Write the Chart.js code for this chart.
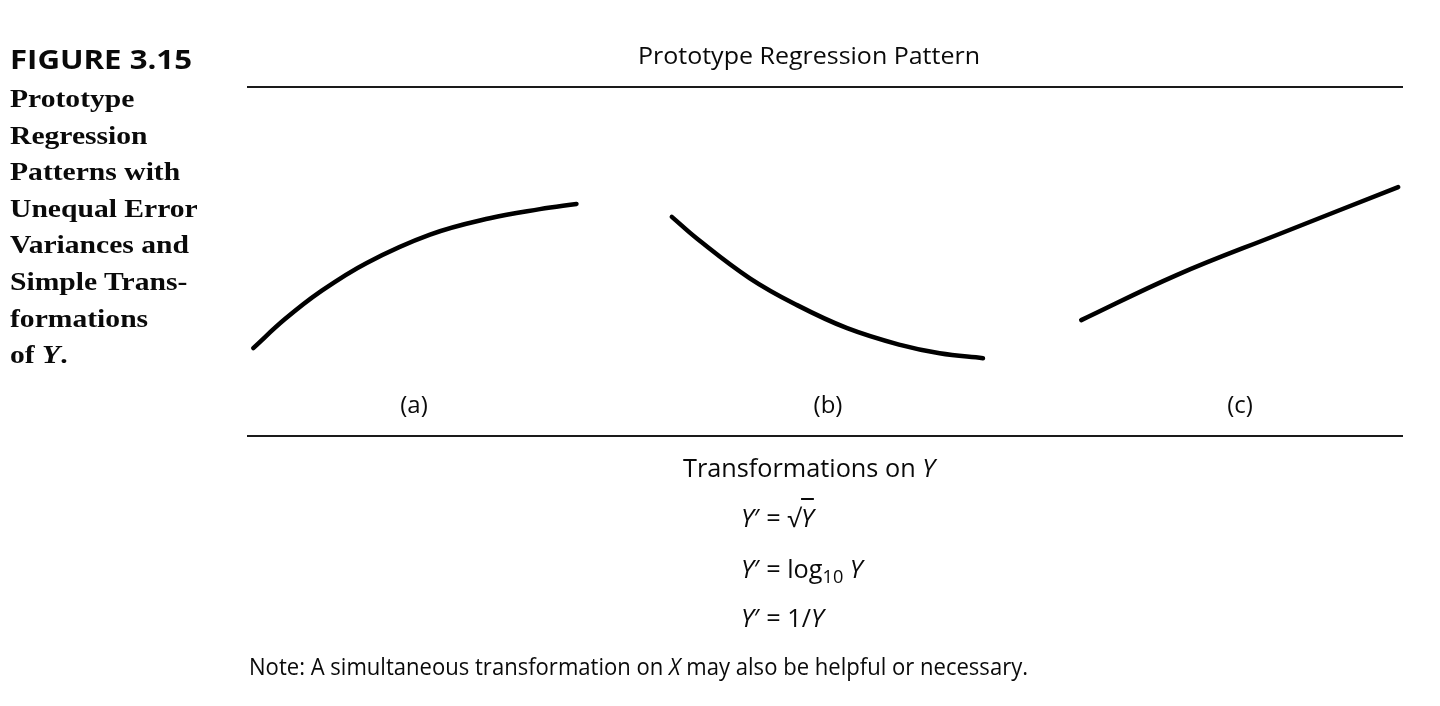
<!DOCTYPE html>
<html><head><meta charset="utf-8">
<script src="https://cdn.jsdelivr.net/npm/chart.js@4.4.1/dist/chart.umd.min.js"></script>
<style>
html,body{margin:0;padding:0;background:#fff;width:1440px;height:706px;overflow:hidden;}
#wrap{position:relative;width:1440px;height:706px;}
#c{position:absolute;left:0;top:0;}
.t{position:absolute;left:0;top:0;white-space:nowrap;transform-origin:0 0;color:#0a0a0a;line-height:1.2;}
.sans{font-family:"Open Sans","DejaVu Sans",sans-serif;font-weight:500;}
.serif{font-family:"Liberation Serif","Times New Roman",serif;font-weight:bold;}
.i{font-style:italic;}
.sub{font-size:0.72em;vertical-align:-0.3em;line-height:0;}
.ov{text-decoration:overline;}
.bl{display:inline-block;width:0;height:0;vertical-align:baseline;}
</style></head>
<body><div id="wrap">
<canvas id="c" width="1440" height="706"></canvas>

<div class="t sans" data-g="fig" data-x="10" data-b="69" data-w="182" style="font-size:27px;font-weight:700;">FIGURE 3.15</div>
<div class="t serif" data-g="cap" data-x="10" data-b="107" data-w="125" style="font-size:26px;">Prototype</div>
<div class="t serif" data-g="cap" data-x="10" data-b="143.6" data-w="137" style="font-size:26px;">Regression</div>
<div class="t serif" data-g="cap" data-x="10" data-b="180.2" data-w="170" style="font-size:26px;">Patterns with</div>
<div class="t serif" data-g="cap" data-x="10" data-b="216.8" data-w="189" style="font-size:26px;">Unequal Error</div>
<div class="t serif" data-g="cap" data-x="10" data-b="253.4" data-w="178" style="font-size:26px;">Variances and</div>
<div class="t serif" data-g="cap" data-x="10" data-b="290" data-w="178" style="font-size:26px;">Simple Trans-</div>
<div class="t serif" data-g="cap" data-x="10" data-b="326.6" data-w="137" style="font-size:26px;">formations</div>
<div class="t serif" data-g="cap" data-x="10" data-b="363.2" data-w="58" style="font-size:26px;">of <span class="i">Y</span>.</div>

<div class="t sans" data-g="title" data-x="638" data-b="64" data-w="342" style="font-size:24px;">Prototype Regression Pattern</div>

<div class="t sans" data-g="lab" data-cx="414" data-b="413" style="font-size:24px;">(a)</div>
<div class="t sans" data-g="lab" data-cx="828" data-b="413" style="font-size:24px;">(b)</div>
<div class="t sans" data-g="lab" data-cx="1240" data-b="413" style="font-size:24px;">(c)</div>

<div class="t sans" data-g="tr" data-x="683" data-b="477" data-w="252" style="font-size:25px;">Transformations on <span class="i">Y</span></div>
<div class="t sans" data-g="tr" data-x="741" data-b="527" style="font-size:25px;"><span class="i">Y</span>′ = √<span class="i ov">Y</span></div>
<div class="t sans" data-g="tr" data-x="741" data-b="578" style="font-size:25px;"><span class="i">Y</span>′ = log<span class="sub">10</span> <span class="i">Y</span></div>
<div class="t sans" data-g="tr" data-x="741" data-b="627" style="font-size:25px;"><span class="i">Y</span>′ = 1/<span class="i">Y</span></div>

<div class="t sans" data-g="note" data-x="249" data-b="675" data-w="779" style="font-size:23px;">Note: A simultaneous transformation on <span class="i">X</span> may also be helpful or necessary.</div>
</div>

<script>
// Panel (a): concave increasing curve
const xA = [0.65, 3.94, 7.58, 12.43, 19.0, 25.2, 30.4, 34.2];
const yA = [25.2, 33.5, 41.3, 49.6, 57.7, 62.4, 65.0, 66.5];
// Panel (b): convex decreasing curve
const xB = [44.1, 46.7, 52.2, 57.1, 62.3, 67.8, 71.9, 76.4];
const yB = [62.8, 56.6, 45.2, 37.5, 30.9, 26.1, 23.7, 22.3];
// Panel (c): near-linear increasing
const xC = [86.6, 96.5, 106.9, 119.5];
const yC = [33.2, 46.1, 57.6, 71.3];

function pts(xs, ys){ return xs.map((x,i)=>({x:x, y:ys[i]})); }

const rules = {
  id:'rules',
  afterDraw(chart){
    const {ctx, chartArea:a} = chart;
    ctx.save();
    ctx.strokeStyle = '#1a1a1a';
    ctx.lineWidth = 2;
    ctx.beginPath();
    ctx.moveTo(a.left, a.top); ctx.lineTo(a.right, a.top);
    ctx.moveTo(a.left, a.bottom); ctx.lineTo(a.right, a.bottom);
    ctx.stroke();
    ctx.restore();
  }
};

const ds = (xs, ys) => ({
  data: pts(xs, ys), showLine:true, pointRadius:0, borderColor:'#000', borderWidth:4.5,
  tension:0.4, borderCapStyle:'round', borderJoinStyle:'round', clip:false, fill:false
});

new Chart(document.getElementById('c'), {
  type:'scatter',
  data:{ datasets:[ ds(xA,yA), ds(xB,yB), ds(xC,yC) ] },
  options:{
    responsive:false, animation:false, events:[],
    layout:{ padding:{ left:247, right:37, top:87, bottom:270 } },
    scales:{
      x:{ type:'linear', min:0, max:120, display:false },
      y:{ type:'linear', min:0, max:100, display:false }
    },
    plugins:{ legend:{display:false}, tooltip:{enabled:false}, title:{display:false} }
  },
  plugins:[rules]
});

function layout(){
  const els = [...document.querySelectorAll('.t')];
  const groups = {};
  els.forEach(el=>{
    if(!el.querySelector('.bl')){ const m=document.createElement('span'); m.className='bl'; el.appendChild(m); }
    el.style.transform='none';
    const w = el.getBoundingClientRect().width;
    el._w = w;
    if(el.dataset.w){
      const g = groups[el.dataset.g] || (groups[el.dataset.g]={t:0,m:0});
      g.t += +el.dataset.w; g.m += w;
    }
  });
  els.forEach(el=>{
    const g = groups[el.dataset.g];
    const s = g ? g.t/g.m : 1;
    const bo = el.querySelector('.bl').offsetTop;
    el.style.top = (+el.dataset.b - bo) + 'px';
    const x = el.dataset.cx ? (+el.dataset.cx - el._w*s/2) : +el.dataset.x;
    el.style.left = x + 'px';
    el.style.transform = 'scaleX(' + s + ')';
  });
}
layout();
if(document.fonts && document.fonts.ready){ document.fonts.ready.then(layout); }
</script>
</body></html>
